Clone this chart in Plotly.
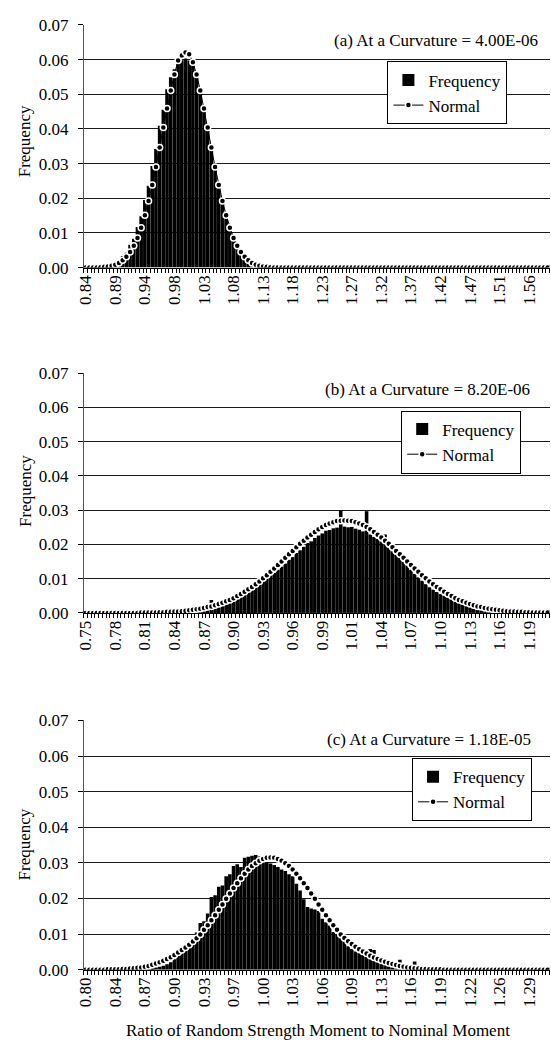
import plotly.graph_objects as go

# ---------------------------------------------------------------------------
# Histogram bins: centre of the first bin and bin width for each curvature
# ---------------------------------------------------------------------------
bin_start_a, bin_width_a = 0.840, 0.006025
bin_start_b, bin_width_b = 0.751, 0.0036625
bin_start_c, bin_width_c = 0.8043, 0.00403

labels_a = ["0.84", "0.89", "0.94", "0.98", "1.03", "1.08", "1.13", "1.18",
            "1.23", "1.27", "1.32", "1.37", "1.42", "1.47", "1.51", "1.56"]
labels_b = ["0.75", "0.78", "0.81", "0.84", "0.87", "0.90", "0.93", "0.96",
            "0.99", "1.01", "1.04", "1.07", "1.10", "1.13", "1.16", "1.19"]
labels_c = ["0.80", "0.84", "0.87", "0.90", "0.93", "0.97", "1.00", "1.03",
            "1.06", "1.09", "1.13", "1.16", "1.19", "1.22", "1.26", "1.29"]

# (a) curvature = 4.00E-06
freq_a = [
    0, 0, 0, 0, 0, 0, 0.0004, 0.0008, 0.0012, 0.0020,
    0.0033, 0.0043, 0.0066, 0.0083, 0.0117, 0.0148, 0.0195, 0.0236, 0.0293, 0.0342,
    0.0409, 0.0455, 0.0514, 0.0549, 0.0572, 0.0588, 0.0598, 0.0603, 0.0597, 0.0584,
    0.0556, 0.0508, 0.0461, 0.0401, 0.0348, 0.0286, 0.0240, 0.0188, 0.0153, 0.0112,
    0.0087, 0.0061, 0.0046, 0.0030, 0.0022, 0.0012, 0.0008, 0.0005, 0.0003, 0.0001,
    0, 0, 0, 0, 0, 0, 0, 0, 0, 0,
    0, 0, 0, 0, 0, 0, 0, 0, 0, 0,
    0, 0, 0, 0, 0, 0, 0, 0, 0, 0,
    0, 0, 0, 0, 0, 0, 0, 0, 0, 0,
    0, 0, 0, 0, 0, 0, 0, 0, 0, 0,
    0, 0, 0, 0, 0, 0, 0, 0, 0, 0,
    0, 0, 0, 0, 0, 0, 0, 0, 0, 0,
    0, 0, 0, 0, 0, 0,
]
normal_a = [
    0, 0, 0, 0, 0.0001, 0.0002, 0.0003, 0.0005, 0.0008, 0.0013,
    0.0021, 0.0031, 0.0045, 0.0063, 0.0085, 0.0115, 0.0151, 0.0192, 0.0238, 0.0290,
    0.0346, 0.0404, 0.0459, 0.0511, 0.0557, 0.0597, 0.0612, 0.0620, 0.0615, 0.0592,
    0.0557, 0.0511, 0.0459, 0.0404, 0.0346, 0.0290, 0.0238, 0.0192, 0.0151, 0.0115,
    0.0085, 0.0063, 0.0045, 0.0031, 0.0021, 0.0013, 0.0008, 0.0005, 0.0003, 0.0002,
    0.0001, 0, 0, 0, 0, 0, 0, 0, 0, 0,
    0, 0, 0, 0, 0, 0, 0, 0, 0, 0,
    0, 0, 0, 0, 0, 0, 0, 0, 0, 0,
    0, 0, 0, 0, 0, 0, 0, 0, 0, 0,
    0, 0, 0, 0, 0, 0, 0, 0, 0, 0,
    0, 0, 0, 0, 0, 0, 0, 0, 0, 0,
    0, 0, 0, 0, 0, 0, 0, 0, 0, 0,
    0, 0, 0, 0, 0, 0,
]

# (b) curvature = 8.20E-06
freq_b = [
    0, 0, 0, 0, 0, 0, 0, 0, 0, 0,
    0, 0, 0, 0, 0, 0, 0, 0, 0, 0,
    0, 0, 0, 0, 0, 0, 0, 0, 0, 0,
    0.0004, 0.0006, 0.0009, 0.0012, 0.0038, 0.0015, 0.0020, 0.0024, 0.0029, 0.0033,
    0.0038, 0.0045, 0.0049, 0.0057, 0.0062, 0.0071, 0.0077, 0.0085, 0.0093, 0.0100,
    0.0109, 0.0117, 0.0126, 0.0135, 0.0144, 0.0155, 0.0163, 0.0175, 0.0183, 0.0193,
    0.0204, 0.0209, 0.0219, 0.0226, 0.0232, 0.0240, 0.0242, 0.0247, 0.0249, 0.0299,
    0.0252, 0.0250, 0.0251, 0.0246, 0.0243, 0.0238, 0.0297, 0.0229, 0.0222, 0.0216,
    0.0208, 0.0229, 0.0190, 0.0180, 0.0170, 0.0160, 0.0149, 0.0138, 0.0126, 0.0114,
    0.0104, 0.0094, 0.0084, 0.0075, 0.0068, 0.0061, 0.0055, 0.0050, 0.0045, 0.0040,
    0.0035, 0.0031, 0.0027, 0.0023, 0.0019, 0.0015, 0.0012, 0.0009, 0.0006, 0.0004,
    0.0002, 0, 0, 0, 0, 0, 0, 0, 0, 0,
    0, 0, 0, 0, 0, 0,
]
normal_b = [
    0, 0, 0, 0, 0, 0, 0, 0, 0, 0,
    0, 0, 0, 0, 0, 0.0001, 0.0001, 0.0001, 0.0001, 0.0001,
    0.0002, 0.0002, 0.0003, 0.0003, 0.0004, 0.0004, 0.0005, 0.0006, 0.0008, 0.0009,
    0.0011, 0.0012, 0.0014, 0.0017, 0.0019, 0.0022, 0.0026, 0.0030, 0.0034, 0.0038,
    0.0043, 0.0049, 0.0055, 0.0062, 0.0069, 0.0076, 0.0084, 0.0092, 0.0101, 0.0110,
    0.0120, 0.0130, 0.0140, 0.0150, 0.0161, 0.0171, 0.0181, 0.0192, 0.0202, 0.0211,
    0.0220, 0.0228, 0.0236, 0.0244, 0.0251, 0.0257, 0.0261, 0.0265, 0.0268, 0.0269,
    0.0270, 0.0269, 0.0268, 0.0265, 0.0261, 0.0257, 0.0251, 0.0244, 0.0236, 0.0228,
    0.0220, 0.0211, 0.0202, 0.0192, 0.0181, 0.0171, 0.0161, 0.0150, 0.0140, 0.0130,
    0.0120, 0.0110, 0.0101, 0.0092, 0.0084, 0.0076, 0.0069, 0.0062, 0.0055, 0.0049,
    0.0043, 0.0038, 0.0034, 0.0030, 0.0026, 0.0022, 0.0019, 0.0017, 0.0014, 0.0012,
    0.0011, 0.0009, 0.0008, 0.0006, 0.0005, 0.0004, 0.0004, 0.0003, 0.0003, 0.0002,
    0.0002, 0.0001, 0.0001, 0.0001, 0.0001, 0.0001,
]

# (c) curvature = 1.18E-05
freq_c = [
    0, 0, 0, 0, 0, 0, 0, 0, 0, 0,
    0, 0, 0, 0, 0, 0, 0.0002, 0.0003, 0.0004, 0.0006,
    0.0008, 0.0011, 0.0015, 0.0021, 0.0029, 0.0038, 0.0048, 0.0060, 0.0072, 0.0086,
    0.0104, 0.0131, 0.0136, 0.0158, 0.0204, 0.0209, 0.0233, 0.0236, 0.0262, 0.0268,
    0.0291, 0.0296, 0.0288, 0.0314, 0.0317, 0.0320, 0.0322, 0.0318, 0.0305, 0.0302,
    0.0298, 0.0294, 0.0288, 0.0281, 0.0277, 0.0268, 0.0262, 0.0241, 0.0222, 0.0198,
    0.0176, 0.0172, 0.0169, 0.0165, 0.0143, 0.0133, 0.0124, 0.0106, 0.0097, 0.0088,
    0.0079, 0.0066, 0.0058, 0.0051, 0.0046, 0.0041, 0.0036, 0.0058, 0.0055, 0.0026,
    0.0022, 0.0019, 0.0016, 0.0014, 0.0012, 0.0028, 0.0010, 0.0008, 0.0007, 0.0023,
    0.0005, 0.0004, 0.0003, 0.0002, 0.0002, 0.0001, 0, 0, 0, 0,
    0, 0, 0, 0, 0, 0, 0, 0, 0, 0,
    0, 0, 0, 0, 0, 0, 0, 0, 0, 0,
    0, 0, 0, 0, 0, 0,
]
normal_c = [
    0, 0, 0, 0, 0, 0, 0.0001, 0.0001, 0.0001, 0.0001,
    0.0002, 0.0002, 0.0003, 0.0004, 0.0005, 0.0006, 0.0008, 0.0010, 0.0014, 0.0017,
    0.0021, 0.0025, 0.0030, 0.0035, 0.0041, 0.0048, 0.0055, 0.0062, 0.0070, 0.0079,
    0.0088, 0.0099, 0.0112, 0.0125, 0.0139, 0.0153, 0.0168, 0.0183, 0.0199, 0.0214,
    0.0229, 0.0243, 0.0257, 0.0269, 0.0281, 0.0291, 0.0299, 0.0306, 0.0311, 0.0314,
    0.0315, 0.0314, 0.0311, 0.0306, 0.0299, 0.0291, 0.0281, 0.0269, 0.0257, 0.0243,
    0.0229, 0.0214, 0.0199, 0.0183, 0.0168, 0.0153, 0.0139, 0.0125, 0.0112, 0.0099,
    0.0089, 0.0080, 0.0072, 0.0064, 0.0057, 0.0051, 0.0045, 0.0039, 0.0034, 0.0030,
    0.0026, 0.0022, 0.0019, 0.0016, 0.0013, 0.0010, 0.0008, 0.0006, 0.0005, 0.0004,
    0.0003, 0.0002, 0.0002, 0.0001, 0.0001, 0.0001, 0.0001, 0, 0, 0,
    0, 0, 0, 0, 0, 0, 0, 0, 0, 0,
    0, 0, 0, 0, 0, 0, 0, 0, 0, 0,
    0, 0, 0, 0, 0, 0,
]

panel_titles = ["(a) At a Curvature = 4.00E-06",
                "(b) At a Curvature = 8.20E-06",
                "(c) At a Curvature = 1.18E-05"]

# ---------------------------------------------------------------------------
W, H = 551, 1053
SERIF = "Liberation Serif, Times New Roman, serif"
FONT = dict(family=SERIF, size=17, color="black")

# pixel placement of each plot area: (top of 0.07, bottom at 0.00)
panel_px = [(16.0, 263.3), (370.7, 615.0), (724.3, 978.3)]
x_left_px, x_right_px = 77.0, 549.5
legend_px = [(385, 85.5), (399, 441), (410, 795)]   # left edge, vertical centre
title_px = [(540, 32), (532, 387), (533, 744)]
ytitle_px = [135, 491, 851]

panels = [
    (bin_start_a, bin_width_a, labels_a, freq_a, normal_a),
    (bin_start_b, bin_width_b, labels_b, freq_b, normal_b),
    (bin_start_c, bin_width_c, labels_c, freq_c, normal_c),
]

fig = go.Figure()
annotations = []
legend_names = ["legend", "legend2", "legend3"]

for k, (start, width, labels, freq, normal) in enumerate(panels):
    n = len(freq)
    x = [start + i * width for i in range(n)]
    xa = "x" if k == 0 else f"x{k + 1}"
    ya = "y" if k == 0 else f"y{k + 1}"
    lg = legend_names[k]

    fig.add_trace(go.Bar(
        x=x, y=freq, name="Frequency", xaxis=xa, yaxis=ya, legend=lg,
        marker=dict(color="black", line=dict(width=0)),
    ))
    fig.add_trace(go.Scatter(
        x=x, y=normal, name="Normal", mode="lines+markers", xaxis=xa, yaxis=ya,
        legend=lg,
        line=dict(color="black", width=1),
        marker=dict(symbol="circle", size=6, color="black",
                    line=dict(color="white", width=1.5)),
    ))

    top_px, bot_px = panel_px[k]
    ydom = [1 - bot_px / H, 1 - top_px / H]
    xdom = [x_left_px / W, x_right_px / W]
    tickvals = x[::8][:len(labels)]

    xkey = "xaxis" if k == 0 else f"xaxis{k + 1}"
    ykey = "yaxis" if k == 0 else f"yaxis{k + 1}"
    fig.layout[xkey] = dict(
        domain=xdom, anchor=ya,
        range=[start - width / 2, start + (n - 0.5) * width],
        tickmode="array", tickvals=tickvals, ticktext=labels,
        tickangle=-90, tickfont=FONT, ticks="",
        minor=dict(ticks="outside", ticklen=4, tickcolor="black",
                   tick0=start - width / 2, dtick=width, showgrid=False),
        showgrid=False, zeroline=False,
        showline=True, linecolor="black", linewidth=1,
    )
    fig.layout[ykey] = dict(
        domain=ydom, anchor=xa,
        range=[0, 0.07005], tickmode="linear", tick0=0, dtick=0.01,
        tickformat=".2f", tickfont=FONT,
        ticks="outside", ticklen=5, tickcolor="black",
        ticklabelstandoff=6,
        showgrid=True, gridcolor="#1a1a1a", gridwidth=1,
        zeroline=False, showline=True, linecolor="#555", linewidth=1,
    )

    lx, ly = legend_px[k]
    fig.layout[lg] = dict(
        x=lx / W, y=1 - ly / H, xanchor="left", yanchor="middle",
        bgcolor="white", bordercolor="black", borderwidth=1,
        font=FONT, tracegroupgap=0, itemwidth=30,
    )

    tx, ty = title_px[k]
    annotations.append(dict(
        text=panel_titles[k], x=tx / W, y=1 - ty / H, xref="paper", yref="paper",
        xanchor="right", yanchor="middle", showarrow=False, font=FONT,
    ))
    annotations.append(dict(
        text="Frequency", x=17 / W, y=1 - ytitle_px[k] / H, xref="paper",
        yref="paper", xanchor="center", yanchor="middle", textangle=-90,
        showarrow=False, font=FONT,
    ))

annotations.append(dict(
    text="Ratio of Random Strength Moment to Nominal Moment",
    x=315 / W, y=1 - 1040 / H, xref="paper", yref="paper",
    xanchor="center", yanchor="middle", showarrow=False, font=FONT,
))

fig.update_layout(
    width=W, height=H, margin=dict(l=0, r=0, t=0, b=0),
    paper_bgcolor="white", plot_bgcolor="white",
    bargap=0.03, showlegend=True, annotations=annotations,
)

fig.write_html("out.html")
